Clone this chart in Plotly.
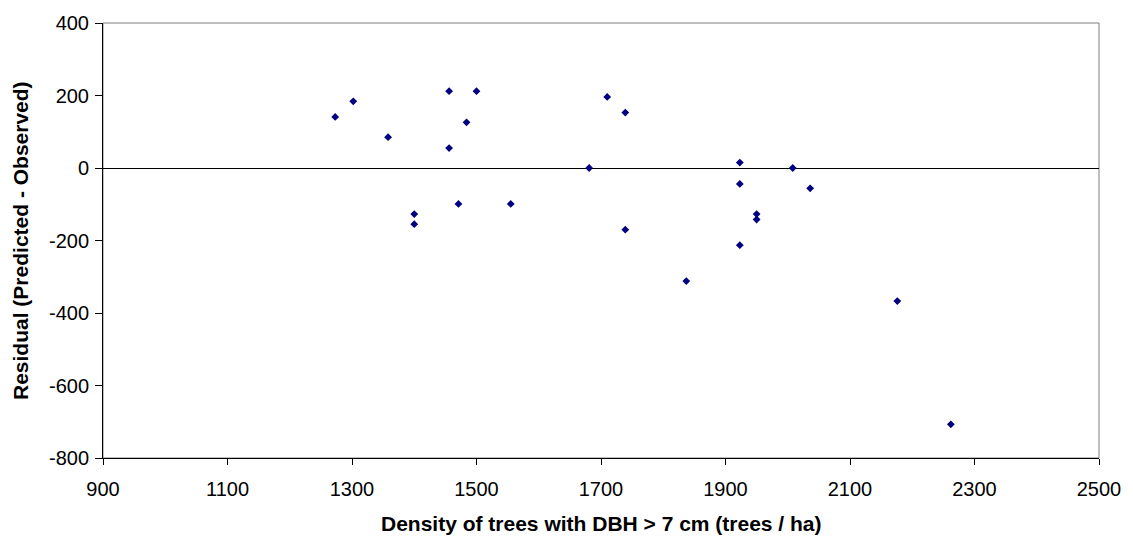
import plotly.graph_objects as go

density = [1273, 1302, 1358, 1400, 1400, 1456, 1456, 1471, 1484, 1500, 1555, 1681, 1710,
           1739, 1739, 1837, 1923, 1923, 1923, 1950, 1950, 2008, 2036, 2176, 2262]
residual = [141, 184, 85, -127, -155, 212, 55, -99, 126, 212, -99, 0, 196,
            153, -170, -312, 15, -44, -213, -127, -142, 0, -56, -367, -707]

x_ticks = [900, 1100, 1300, 1500, 1700, 1900, 2100, 2300, 2500]
y_ticks = [400, 200, 0, -200, -400, -600, -800]
y_tick_text = ["400", "200", "0", "-200", "-400", "-600", "-800"]

x_title = "Density of trees with DBH > 7 cm (trees / ha)"
y_title = "Residual (Predicted - Observed)"

L, R, T, B = 103, 34, 18, 79
W, H = 1133, 537
pw, ph = W - L - R, H - T - B

fig = go.Figure()
fig.add_trace(go.Scatter(
    x=density, y=residual, mode="markers",
    marker=dict(symbol="diamond", size=6, color="#000080", line=dict(width=0)),
    showlegend=False,
))

fig.update_layout(
    width=W, height=H,
    margin=dict(l=L, r=R, t=T, b=B),
    paper_bgcolor="white", plot_bgcolor="white",
    font=dict(family="Liberation Sans, Arial, sans-serif", color="black"),
    shapes=[dict(type="rect", xref="paper", yref="paper", x0=0, y0=0, x1=1, y1=1,
                 line=dict(color="#808080", width=1), layer="below")],
    annotations=[
        dict(text="<b>" + x_title + "</b>", xref="paper", yref="paper",
             x=0.5, y=(0 - (524 - (T + ph))) / ph, xanchor="center", yanchor="middle",
             showarrow=False, font=dict(size=21)),
        dict(text="<b>" + y_title + "</b>", xref="paper", yref="paper",
             x=(20.5 - L) / pw, y=0.5, xanchor="center", yanchor="middle",
             textangle=-90, showarrow=False, font=dict(size=21)),
    ],
)
fig.update_xaxes(
    range=[900, 2500], tickvals=x_ticks, ticktext=[str(v) for v in x_ticks],
    showgrid=False, zeroline=False, showline=True, linecolor="black", linewidth=1,
    ticks="outside", ticklen=6, tickcolor="black", tickfont=dict(size=20),
    ticklabelstandoff=7,
)
fig.update_yaxes(
    range=[-800, 400], tickvals=y_ticks, ticktext=y_tick_text,
    showgrid=False, zeroline=True, zerolinecolor="black", zerolinewidth=1,
    showline=True, linecolor="black", linewidth=1,
    ticks="outside", ticklen=7, tickcolor="black", tickfont=dict(size=20),
    ticklabelstandoff=2,
)

fig.write_html("out.html")
